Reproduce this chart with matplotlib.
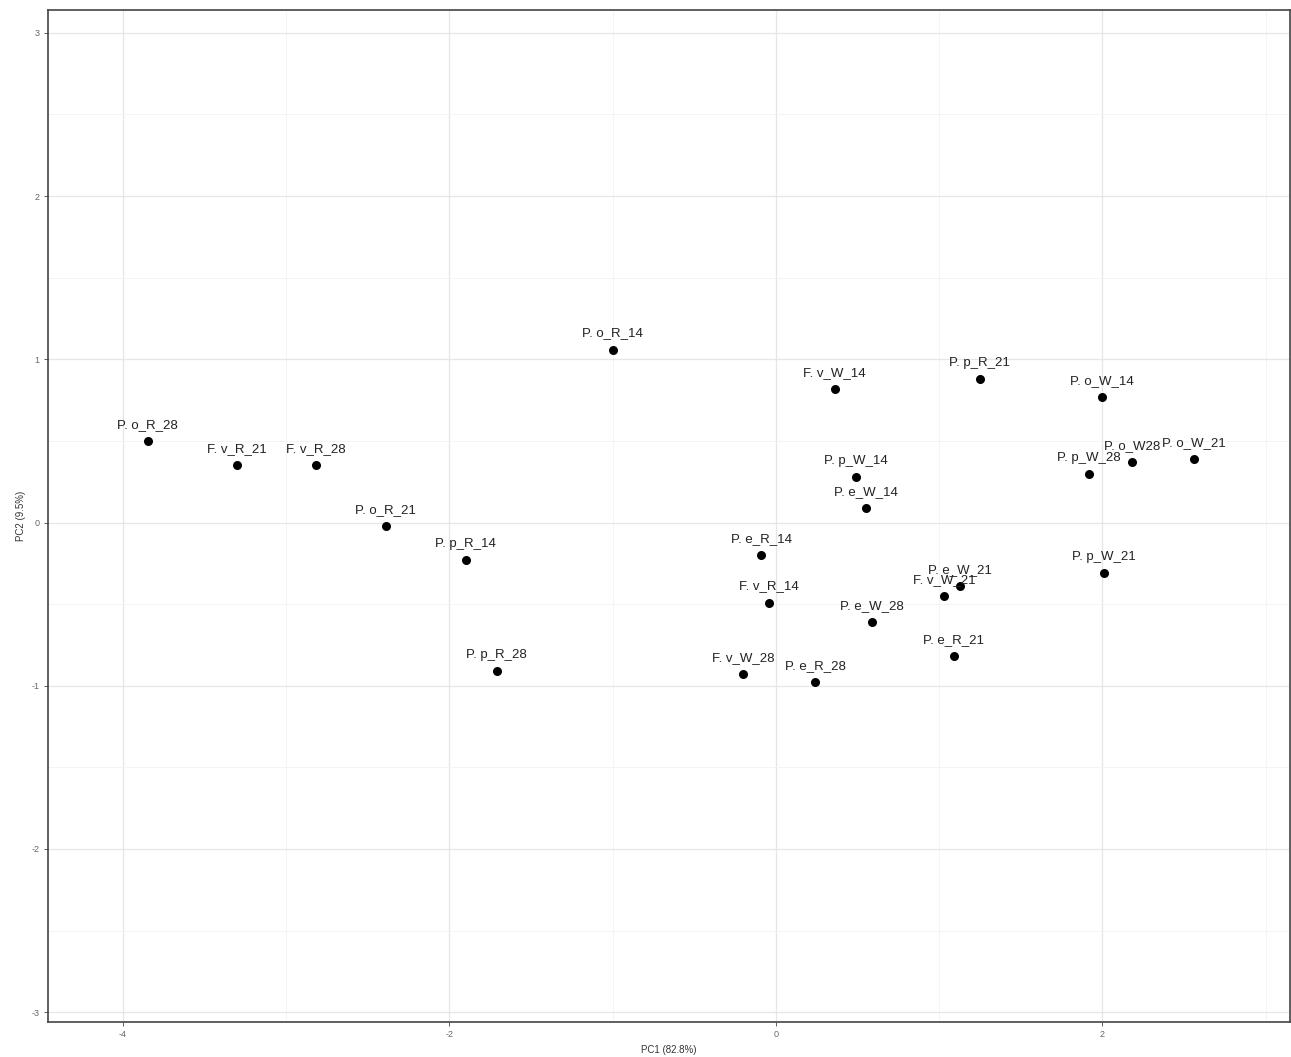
import matplotlib
matplotlib.use("Agg")
import matplotlib.pyplot as plt
from matplotlib.ticker import MultipleLocator

plt.rcParams["font.family"] = ["Liberation Sans", "DejaVu Sans"]
plt.rcParams["axes.unicode_minus"] = False

labels = ["P. o_R_28", "F. v_R_21", "F. v_R_28", "P. o_R_21", "P. p_R_14", "P. p_R_28",
          "P. o_R_14", "P. e_R_14", "F. v_R_14", "F. v_W_28", "P. e_R_28", "F. v_W_14",
          "P. p_W_14", "P. e_W_14", "P. e_W_28", "P. p_R_21", "F. v_W_21", "P. e_W_21",
          "P. e_R_21", "P. o_W_14", "P. p_W_28", "P. o_W28", "P. o_W_21", "P. p_W_21"]
pc1 = [-3.85, -3.30, -2.82, -2.39, -1.90, -1.71,
       -1.00, -0.09, -0.04, -0.20, 0.24, 0.36,
       0.49, 0.55, 0.59, 1.25, 1.03, 1.13,
       1.09, 2.00, 1.92, 2.18, 2.56, 2.01]
pc2 = [0.50, 0.35, 0.35, -0.02, -0.23, -0.91,
       1.06, -0.20, -0.49, -0.93, -0.98, 0.82,
       0.28, 0.09, -0.61, 0.88, -0.45, -0.39,
       -0.82, 0.77, 0.30, 0.37, 0.39, -0.31]

fig = plt.figure(figsize=(12.91, 10.57), dpi=100)
ax = fig.add_axes([48 / 1291, 1 - 1022 / 1057, (1290 - 48) / 1291, (1022 - 10) / 1057])

ax.scatter(pc1, pc2, s=30, color="black", zorder=3)
for lab, x, y in zip(labels, pc1, pc2):
    ax.annotate(lab, (x, y), xytext=(0, 11.5), textcoords="offset points",
                ha="center", va="center", fontsize=9.5, color="#222222", zorder=4)

ax.set_xlim(-4.46, 3.15)
ax.set_ylim(-3.06, 3.14)
ax.xaxis.set_major_locator(MultipleLocator(2))
ax.xaxis.set_minor_locator(MultipleLocator(1))
ax.yaxis.set_major_locator(MultipleLocator(1))
ax.yaxis.set_minor_locator(MultipleLocator(0.5))
ax.grid(which="major", color="#e6e6e6", linewidth=0.9, zorder=0)
ax.grid(which="minor", color="#f3f3f3", linewidth=0.6, zorder=0)
ax.set_axisbelow(True)
ax.tick_params(which="major", length=3, width=0.6, color="#444444", labelsize=6.5,
               labelcolor="#666666", pad=3)
ax.tick_params(which="minor", length=0)
for sp in ax.spines.values():
    sp.set_color("#444444")
    sp.set_linewidth(1.2)

ax.set_xlabel("PC1 (82.8%)", fontsize=7, color="#333333", labelpad=4)
ax.set_ylabel("PC2 (9.5%)", fontsize=7, color="#333333", labelpad=4)

fig.savefig("out.png", dpi=100)
